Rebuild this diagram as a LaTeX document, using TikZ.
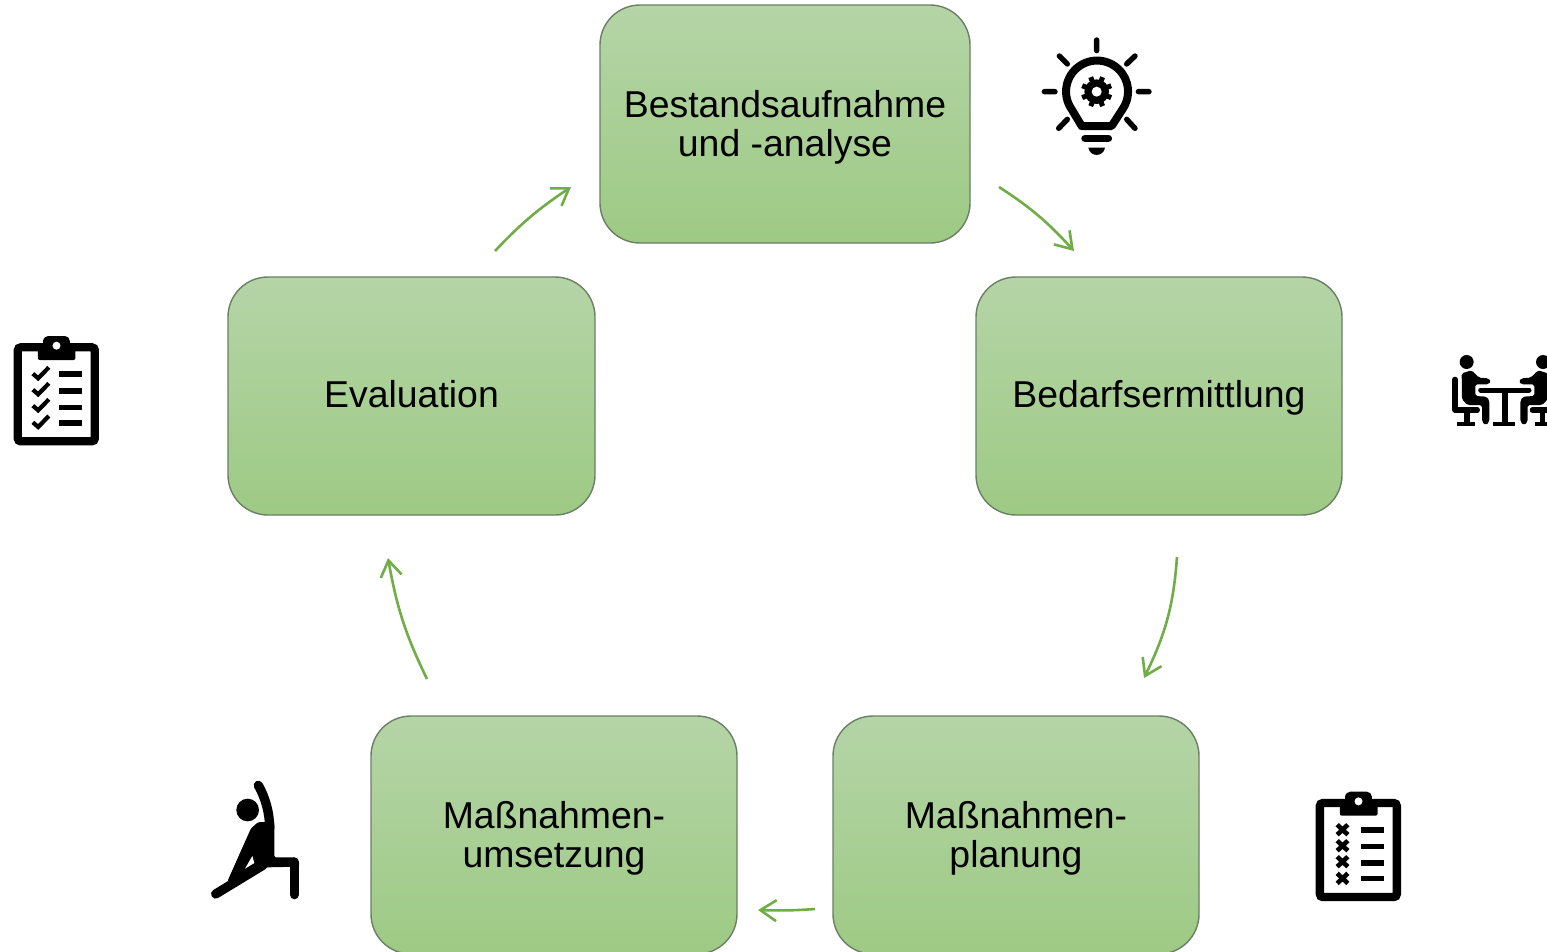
\documentclass[tikz,border=0pt]{standalone}
\usepackage{fontspec}
\setmainfont{Liberation Sans}
\usetikzlibrary{arrows.meta,bending}
\definecolor{boxtop}{HTML}{B5D4A7}
\definecolor{boxbot}{HTML}{9DCA84}
\definecolor{boxedge}{HTML}{6A7F64}
\definecolor{flow}{HTML}{70AD47}
\newcommand{\tallline}{\rule{0pt}{35pt}}
\tikzset{
  phase/.style={draw=boxedge,line width=1.4pt,rounded corners=40pt,top color=boxtop,bottom color=boxbot,
    minimum height=238pt,inner sep=0pt,align=center,text=black,
    font=\fontsize{37.4}{39}\selectfont,
    execute at begin node={\rule{0pt}{31.5pt}},
    execute at end node={\rule[-8.5pt]{0pt}{8.5pt}}},
  flowarrow/.style={draw=flow,line width=2.6pt,-{Straight Barb[length=16pt,width=21pt,line width=2.6pt,flex]},bend left=#1},
  flowarrow/.default=8,
  zoomed/.style={x=0.33333pt,y=-0.33333pt},
  ink/.style={line cap=round,line join=round,draw=black},
  pics/clipboard/.style={code={
    \draw[black,line width=8.3pt,rounded corners=3pt,fill=white] (52,67) rectangle (283,349);
    \fill[black,rounded corners=2pt] (112,60) -- (128,60) -- (128,45) [rounded corners=5pt] -- (128,33) -- (208,33) [rounded corners=2pt] -- (208,60) -- (225,60) -- (225,105) -- (112,105) -- cycle;
    \fill[white] (168,62) circle[radius=12];
    \foreach \yy in {147,197,247,293}{\fill[black] (175,\yy-8.5) rectangle (245,\yy+8.5);}
  }},
  pics/sitter/.style={code={
    \fill[black] (110,66) circle[radius=21];
    \fill[black,rounded corners=1.8pt] (95,100) -- (125,91) -- (147,113) -- (175,115) -- (183,124) -- (175,133) -- (136,133) -- (136,168) -- (170,170) -- (178,182) -- (178,245) -- (167,256) -- (156,245) -- (156,195) -- (112,195) -- (96,178) -- cycle;
    \draw[ink,line width=5.2pt] (75,118) -- (75,210) -- (142,210);
    \fill[black] (103,210) rectangle (119,245);
    \fill[black] (82,245) rectangle (135,258);
  }}
}
\begin{document}
\begin{tikzpicture}[x=1pt,y=-1pt]
\useasboundingbox (0,0) rectangle (1547,951);
% process boxes
\node[phase,minimum width=370pt] (analyse) at (785,124) {\tallline Bestandsaufnahme\\und -analyse};
\node[phase,minimum width=366pt] (bedarf) at (1159,396) {Bedarfsermittlung};
\node[phase,minimum width=366pt] (planung) at (1016,835) {\tallline Maßnahmen-\\planung};
\node[phase,minimum width=366pt] (umsetzung) at (554,835) {\tallline Maßnahmen-\\umsetzung};
\node[phase,minimum width=367pt] (evaluation) at (411.5,396) {Evaluation};
% connector ends
\coordinate (a1) at (999,187);  \coordinate (a2) at (1074,251);
\coordinate (b1) at (1177,557); \coordinate (b2) at (1144,678);
\coordinate (c1) at (815,909);  \coordinate (c2) at (758,910);
\coordinate (d1) at (427,679);  \coordinate (d2) at (388,558);
\coordinate (e1) at (495,251);  \coordinate (e2) at (571,187);
\draw[flowarrow=7.5] (a1) to (a2);
\draw[flowarrow=11] (b1) to (b2);
\draw[flowarrow=3] (c1) to (c2);
\draw[flowarrow=8] (d1) to (d2);
\draw[flowarrow=6.5] (e1) to (e2);
% light bulb
\begin{scope}[shift={(1020,20)},zoomed]
  \draw[ink,line width=5.4pt] (230,60) -- (230,92) (73,215) -- (105,215) (355,215) -- (387,215)
    (118,108) -- (142,132) (345,108) -- (320,132) (116,325) -- (142,298) (345,325) -- (320,298);
  \draw[ink,line width=8pt] (185,318) -- (155,268) arc[start angle=145,end angle=395,radius=93] -- (275,318) -- cycle;
  \fill[black] (230,215) circle[radius=37];
  \foreach \aa in {0,45,...,315}{\draw[black,line width=5pt] (230,215) -- ++(\aa+22.5:47);}
  \fill[white] (230,215) circle[radius=15];
  \draw[ink,line width=7.5pt] (195,355) -- (265,355);
  \fill[black] (205,383) -- (255,383) .. controls (250,412) and (210,412) .. (205,383) -- cycle;
\end{scope}
% meeting
\begin{scope}[shift={(1430,340)},zoomed]
  \pic {sitter};
  \draw[ink,line width=5pt] (152,150) -- (297,150);
  \fill[black] (216,150) rectangle (233,245);
  \fill[black] (190,245) rectangle (255,258);
\end{scope}
\begin{scope}[shift={(1579.67,340)},x=-0.33333pt,y=-0.33333pt]
  \pic {sitter};
\end{scope}
% checklist
\begin{scope}[shift={(0.5,325)},zoomed]
  \pic {clipboard};
  \foreach \yy in {147,195,243,293}{
    \draw[black,line width=4.2pt,line join=miter] (97,\yy-1) -- (113,\yy+13) -- (145,\yy-20);}
\end{scope}
% cross list
\begin{scope}[shift={(1302.5,780.7)},zoomed]
  \pic {clipboard};
  \foreach \yy in {147,195,243,293}{
    \draw[black,line width=4.6pt] (104,\yy-15) -- (136,\yy+15) (136,\yy-15) -- (104,\yy+15);}
\end{scope}
% stretching figure
\begin{scope}[shift={(195,770)},zoomed]
  \fill[black] (158,120) circle[radius=34];
  \draw[ink,line width=9.3pt] (190,46) .. controls (212,85) and (224,130) .. (224,175);
  \draw[ink,line width=9.3pt] (62,372) -- (205,285);
  \fill[black,rounded corners=1.5pt] (168,175) -- (190,156) -- (238,156) -- (238,262) -- (300,262) -- (312,275) -- (312,290) -- (215,292) -- (100,350) -- (98,332) -- cycle;
  \draw[ink,line width=9.3pt] (298,276) -- (298,374);
  \fill[white] (150,296) -- (178,279) -- (172,258) -- cycle;
\end{scope}
\end{tikzpicture}
\end{document}
